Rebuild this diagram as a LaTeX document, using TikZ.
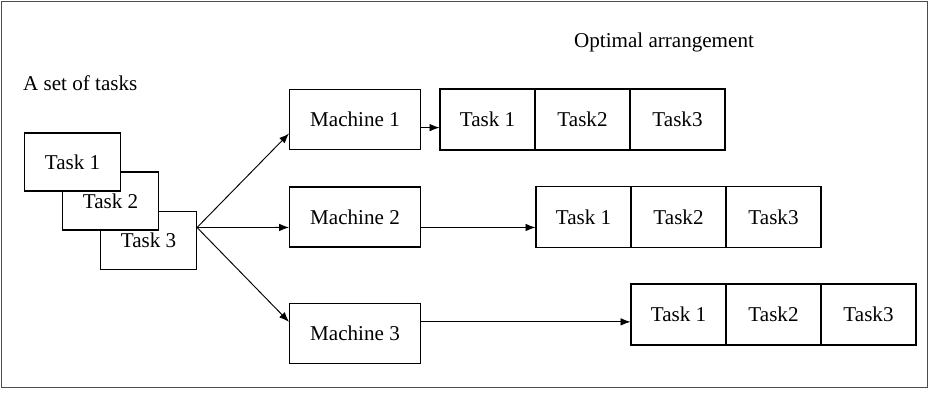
\documentclass[tikz,border=0pt]{standalone}
\usepackage{fontspec}
\setmainfont{Liberation Serif}
\usetikzlibrary{arrows.meta}

\begin{document}
\begin{tikzpicture}[x=0.03cm, y=-0.03cm, >={Latex[length=8.5pt,width=6.5pt]},
  every node/.style={font=\fontsize{18}{20}\selectfont},
  box/.style={draw, fill=white, inner sep=0pt, line width=0.9pt},
  taskbox/.style={box, minimum width=2.88cm, minimum height=1.74cm},
  machbox/.style={box, minimum width=3.93cm, minimum height=1.80cm},
  cellbox/.style={box, minimum width=2.85cm, minimum height=1.83cm},
  link/.style={->, line width=0.8pt}]

\useasboundingbox (0,0) rectangle (929,414);
% outer frame
\draw[gray!60!black, line width=0.8pt] (1.5,1) rectangle (927.5,387);

% labels
\node[anchor=west] (setlbl) at (19,83) {A set of tasks};
\node (optlbl) at (664,42) {Optimal arrangement};

% stack of tasks (back to front)
\node[taskbox] (t3) at (148.5,240.5) {Task 3};
\node[taskbox] (t2) at (110.5,201) {Task 2};
\node[taskbox] (t1) at (72.5,162) {Task 1};

% machines
\node[machbox] (m1) at (355,119.5) {Machine 1};
\node[machbox] (m2) at (355,217) {Machine 2};
\node[machbox] (m3) at (355,333.5) {Machine 3};

% arrangement for machine 1
\node[cellbox] (r1a) at (487.5,119.5) {Task 1};
\node[cellbox] (r1b) at (582.5,119.5) {Task2};
\node[cellbox] (r1c) at (677.5,119.5) {Task3};

% arrangement for machine 2
\node[cellbox] (r2a) at (583.5,217) {Task 1};
\node[cellbox] (r2b) at (678.5,217) {Task2};
\node[cellbox] (r2c) at (773.5,217) {Task3};

% arrangement for machine 3
\node[cellbox] (r3a) at (678.5,314.5) {Task 1};
\node[cellbox] (r3b) at (773.5,314.5) {Task2};
\node[cellbox] (r3c) at (868.5,314.5) {Task3};

% fan out from the tasks
\coordinate (fan) at (t3.15);
\draw[link] (fan) -- (m1.192);
\draw[link] (fan) -- (m2.189);
\draw[link] (fan) -- (m3.170);

% machine to arrangement
\draw[link] (m1.-7) -- (m1.-7 -| r1a.west);
\draw[link] (m2.-9) -- (m2.-9 -| r2a.west);
\draw[link] (m3.10) -- (m3.10 -| r3a.west);

\end{tikzpicture}
\end{document}
